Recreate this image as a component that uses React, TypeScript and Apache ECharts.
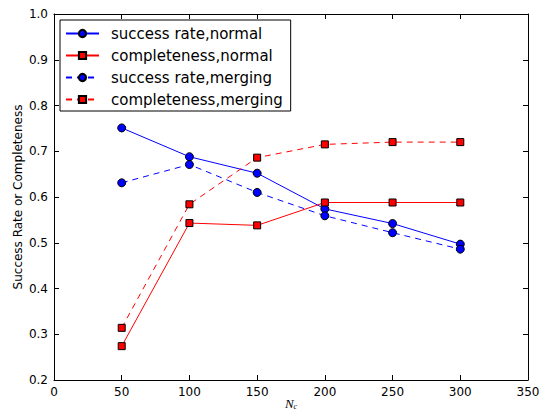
import React, { useEffect, useRef } from "react";
import * as echarts from "echarts";

const xValues = [50, 100, 150, 200, 250, 300];
const successNormal = [0.751, 0.688, 0.652, 0.574, 0.542, 0.497];
const completenessNormal = [0.274, 0.543, 0.538, 0.588, 0.588, 0.588];
const successMerging = [0.631, 0.671, 0.61, 0.559, 0.522, 0.486];
const completenessMerging = [0.314, 0.584, 0.686, 0.715, 0.72, 0.72];
const seriesNames = [
  "success rate,normal",
  "completeness,normal",
  "success rate,merging",
  "completeness,merging",
];
const seriesColors = ["#0000ff", "#ff0000", "#0000ff", "#ff0000"];
const seriesDashed = [false, false, true, true];

const FONT = "DejaVu Sans";

function pairs(ys: number[]) {
  return xValues.map((x, i) => [x, ys[i]]);
}

export default function App() {
  const ref = useRef<HTMLDivElement>(null);
  useEffect(() => {
    const chart = echarts.init(ref.current!, null, { renderer: "svg" });
    const axisLine = { show: true, onZero: false, lineStyle: { color: "#000", width: 1 } };
    const tick = { show: true, inside: true, length: 5, lineStyle: { color: "#000" } };
    const label = { color: "#000", fontFamily: FONT, fontSize: 12 };
    const dash = (d: boolean) => (d ? [6, 5] : "solid");
    const mk = (i: number, ys: number[], symbol: string, size: number) => ({
      name: seriesNames[i],
      type: "line",
      data: pairs(ys),
      symbol,
      symbolSize: size,
      showAllSymbol: true,
      lineStyle: { color: seriesColors[i], width: 1, type: dash(seriesDashed[i]) },
      itemStyle: { color: seriesColors[i], borderColor: "#000", borderWidth: 1 },
      emphasis: { disabled: true },
    });
    chart.setOption({
      animation: false,
      backgroundColor: "#fff",
      grid: { left: 54, right: 13, top: 14, bottom: 32, outerBoundsMode: "none", containLabel: false },
      legend: {
        orient: "vertical",
        left: 60,
        top: 20,
        padding: [6, 8, 4, 5],
        itemWidth: 33,
        itemHeight: 9,
        itemGap: 7,
        borderColor: "#000",
        borderWidth: 1,
        backgroundColor: "#fff",
        data: seriesNames,
        textStyle: { color: "#000", fontFamily: FONT, fontSize: 15, padding: [0, 0, 0, 7] },
      },
      xAxis: [
        {
          type: "value",
          min: 0,
          max: 350,
          interval: 50,
          position: "bottom",
          axisLine,
          axisTick: tick,
          splitLine: { show: false },
          axisLabel: { ...label, margin: 6 },
          name: "{i|N}{s|c}",
          nameLocation: "middle",
          nameGap: 17,
          nameMoveOverlap: false,
          nameTextStyle: {
            rich: {
              i: { fontFamily: "Liberation Serif", fontStyle: "italic", fontSize: 13, color: "#000" },
              s: { fontFamily: "Liberation Serif", fontStyle: "italic", fontSize: 8, color: "#000", padding: [5, 0, 0, 0] },
            },
          },
        },
        {
          type: "value",
          min: 0,
          max: 350,
          interval: 50,
          position: "top",
          axisLine,
          axisTick: tick,
          splitLine: { show: false },
          axisLabel: { show: false },
        },
      ],
      yAxis: [
        {
          type: "value",
          min: 0.2,
          max: 1.0,
          interval: 0.1,
          position: "left",
          axisLine,
          axisTick: tick,
          splitLine: { show: false },
          axisLabel: { ...label, margin: 6, formatter: (v: number) => v.toFixed(1) },
          name: "Success Rate or Completeness",
          nameLocation: "middle",
          nameGap: 30,
          nameMoveOverlap: false,
          nameTextStyle: { color: "#000", fontFamily: FONT, fontSize: 12 },
        },
        {
          type: "value",
          min: 0.2,
          max: 1.0,
          interval: 0.1,
          position: "right",
          axisLine,
          axisTick: tick,
          splitLine: { show: false },
          axisLabel: { show: false },
        },
      ],
      series: [
        mk(0, successNormal, "circle", 8),
        mk(1, completenessNormal, "rect", 7),
        mk(2, successMerging, "circle", 8),
        mk(3, completenessMerging, "rect", 7),
      ],
    });
    return () => chart.dispose();
  }, []);
  return (
    <div
      ref={ref}
      style={{ position: "fixed", left: 0, top: 0, width: 541, height: 412, background: "#fff" }}
    />
  );
}
